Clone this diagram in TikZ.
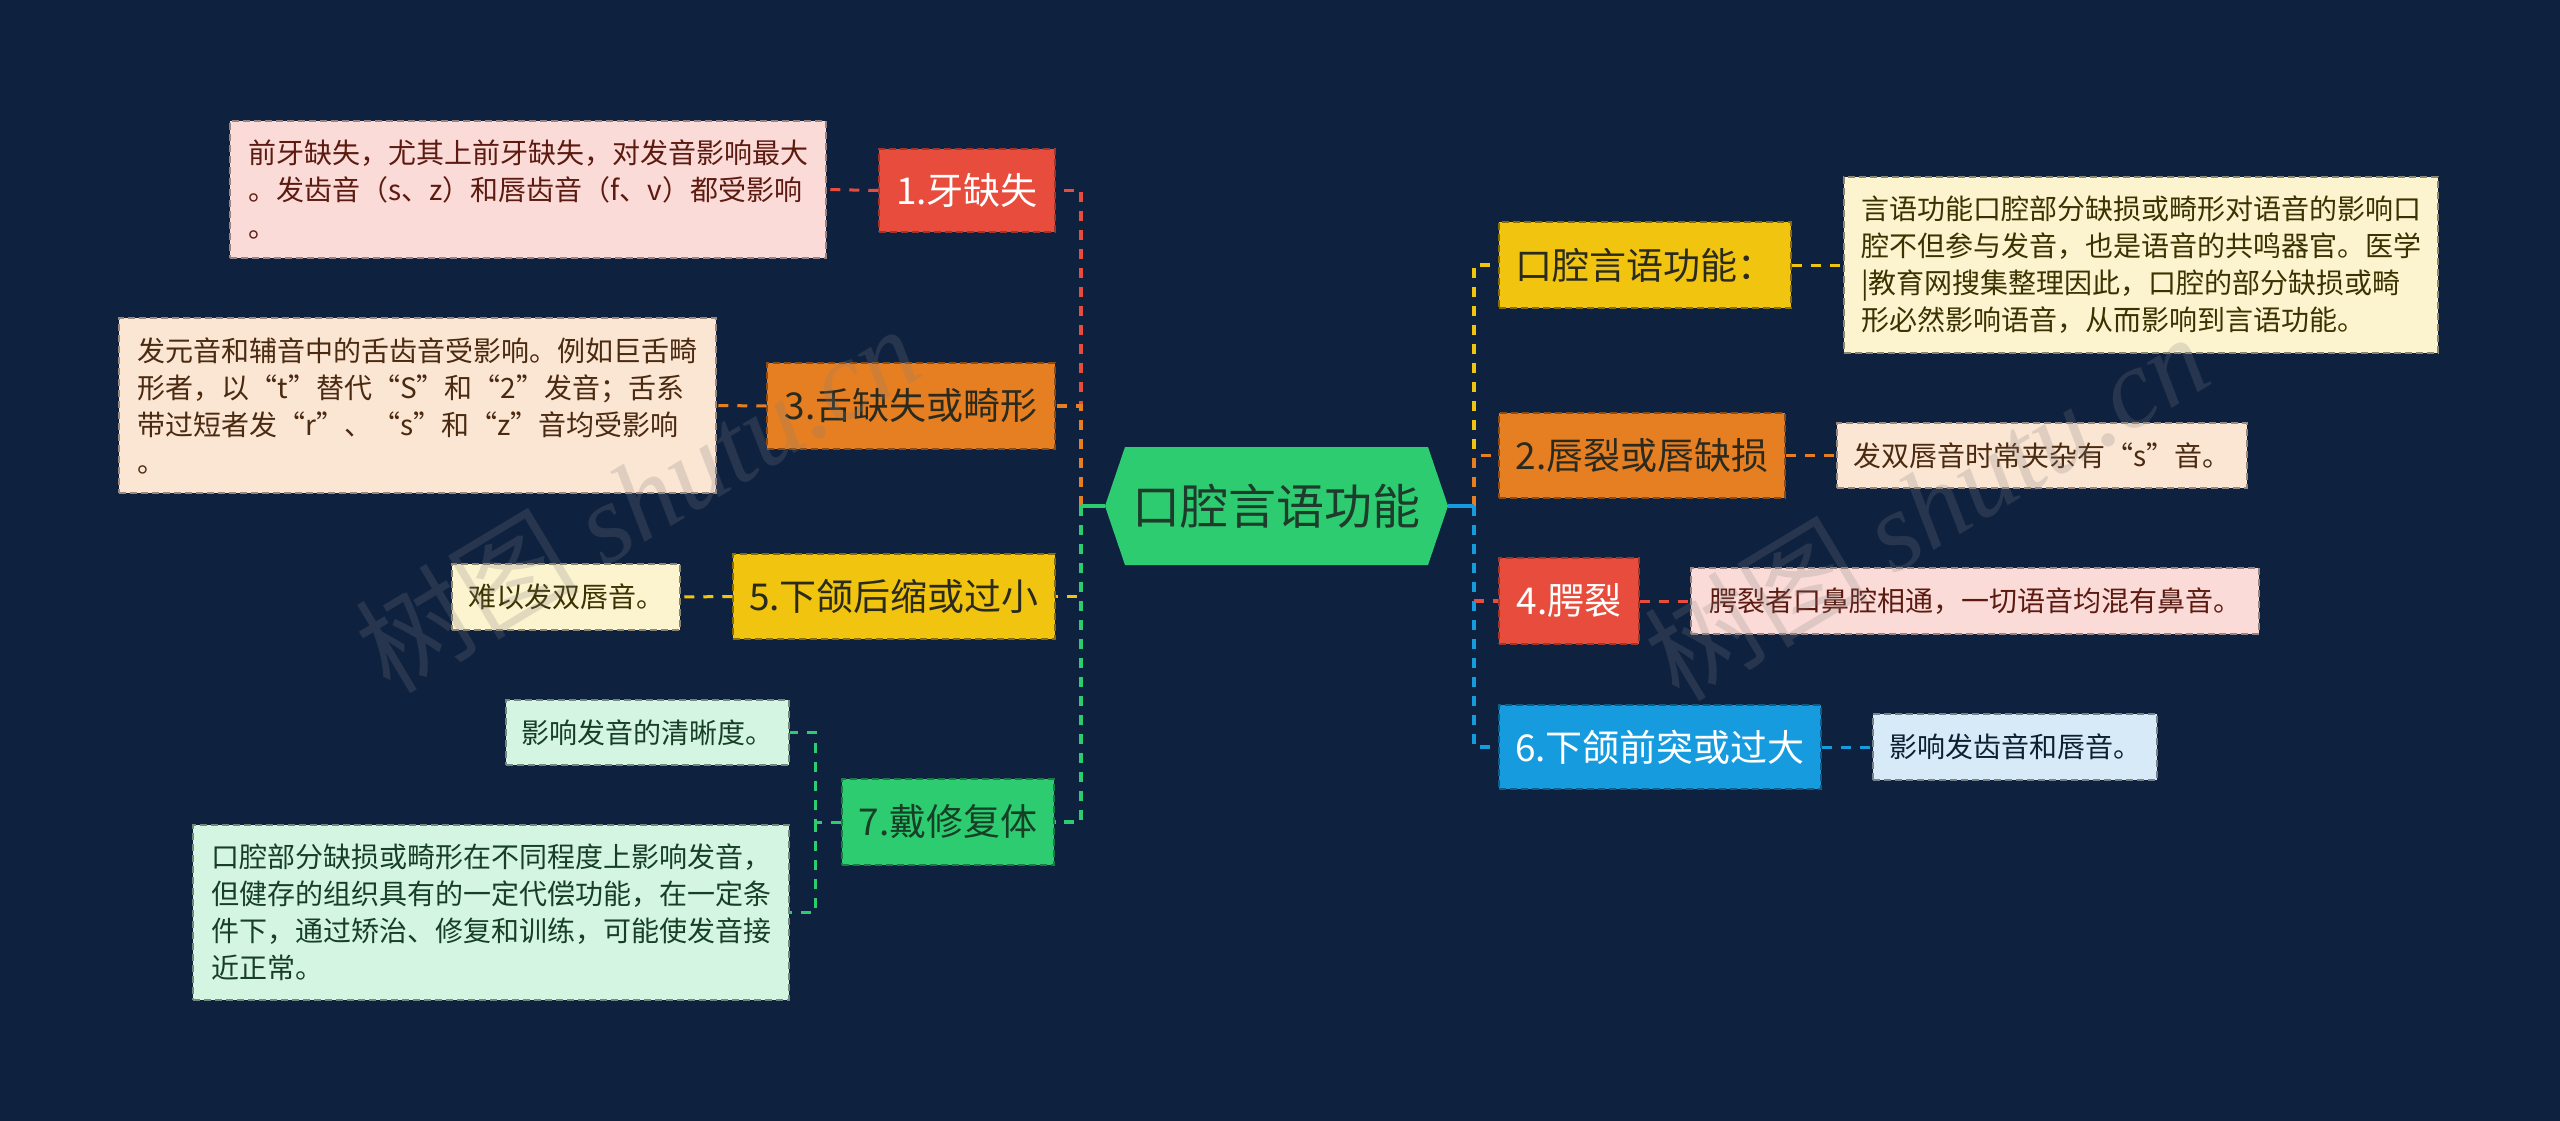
\documentclass[tikz,border=0pt]{standalone}
\usepackage{fontspec}
\setmainfont{Noto Sans CJK SC}
\newfontfamily\wmfont{Liberation Serif}
\usetikzlibrary{calc}
\definecolor{bg}{HTML}{0E2240}
\definecolor{cred}{HTML}{E74C3C}
\definecolor{corg}{HTML}{E67E22}
\definecolor{cyel}{HTML}{F1C40F}
\definecolor{cgrn}{HTML}{2ECC71}
\definecolor{cblu}{HTML}{179BDF}
\definecolor{fpk}{HTML}{FADBD8}
\definecolor{fpc}{HTML}{FBE5D3}
\definecolor{fcr}{HTML}{FCF3CF}
\definecolor{fmt}{HTML}{D5F5E3}
\definecolor{fbl}{HTML}{D6EAF8}
\definecolor{tpk}{HTML}{5C1A10}
\definecolor{tpc}{HTML}{4A2A10}
\definecolor{tcr}{HTML}{3A3200}
\definecolor{tmt}{HTML}{173F26}
\definecolor{tbl}{HTML}{0B2033}
\definecolor{tdark}{HTML}{2A2A1E}
\definecolor{tcen}{HTML}{1E3B2C}
\tikzset{
  tb/.style={rectangle, inner sep=0pt, align=left, font=\fontsize{28}{37}\selectfont,
    dash pattern=on 7pt off 4pt, line width=1.5pt},
  br/.style={rectangle, inner sep=0pt, align=center, font=\fontsize{37}{44}\selectfont,
    dash pattern=on 7pt off 4pt, line width=1.5pt},
  stub/.style={line width=3.5pt},
  conn/.style={line width=3.5pt, dash pattern=on 10pt off 9pt},
  sconn/.style={line width=3pt, dash pattern=on 10pt off 9pt},
  wm/.style={rotate=31, text=gray, opacity=0.22, font=\fontsize{112}{112}\selectfont}
}
\begin{document}
\begin{tikzpicture}[x=1pt,y=-1pt]
\fill[bg] (0,0) rectangle (2560,1121);
\useasboundingbox (0,0) rectangle (2560,1121);

% center hexagon
\coordinate (cL) at (1105,506);
\coordinate (cR) at (1448,506);
\fill[cgrn] (cL) -- (1125,447) -- (1428,447) -- (cR) -- (1428,565) -- (1125,565) -- cycle;
\node[text=tcen, font=\fontsize{48}{56}\selectfont, inner sep=0pt] (cen) at (1276,506) {口腔言语功能};

\coordinate (trL) at (1081,506);
\coordinate (trR) at (1474,506);
\coordinate (j7) at (815,822);

% left branches
\node[br, fill=cred, draw=cred!70!black, text=white, minimum width=176pt, minimum height=83pt] (b1) at (967,190.5) {1.牙缺失};
\node[br, fill=corg, draw=corg!60!black, text=tdark, minimum width=288pt, minimum height=86pt] (b3) at (911,406) {3.舌缺失或畸形};
\node[br, fill=cyel, draw=cyel!55!black, text=tdark, minimum width=322pt, minimum height=85pt] (b5) at (894,596.5) {5.下颌后缩或过小};
\node[br, fill=cgrn, draw=cgrn!60!black, text=tmt, minimum width=212pt, minimum height=86pt] (b7) at (948,822) {7.戴修复体};

% right branches
\node[br, fill=cyel, draw=cyel!55!black, text=tdark, minimum width=292pt, minimum height=86pt] (bA) at (1645,265) {口腔言语功能：};
\node[br, fill=corg, draw=corg!60!black, text=tdark, minimum width=286pt, minimum height=85pt] (b2) at (1642,455.5) {2.唇裂或唇缺损};
\node[br, fill=cred, draw=cred!70!black, text=white, minimum width=140pt, minimum height=86pt] (b4) at (1569,601) {4.腭裂};
\node[br, fill=cblu, draw=cblu!60!black, text=white, minimum width=322pt, minimum height=84pt] (b6) at (1660,747) {6.下颌前突或过大};

% text boxes left
\node[tb, fill=fpk, draw=fpk!60!black, text=tpk, minimum width=596pt, minimum height=137pt] (t1) at (528,189.5)
  {前牙缺失，尤其上前牙缺失，对发音影响最大\\。发齿音（s、z）和唇齿音（f、v）都受影响\\。};
\node[tb, fill=fpc, draw=fpc!60!black, text=tpc, minimum width=597pt, minimum height=175pt] (t3) at (417.5,405.5)
  {发元音和辅音中的舌齿音受影响。例如巨舌畸\\形者，以“t”替代“S”和“2”发音；舌系\\带过短者发“r”、“s”和“z”音均受影响\\。};
\node[tb, fill=fcr, draw=fcr!55!black, text=tcr, minimum width=228pt, minimum height=66pt] (t5) at (566,597) {难以发双唇音。};
\node[tb, fill=fmt, draw=fmt!55!black, text=tmt, minimum width=283pt, minimum height=65pt] (t7a) at (647.5,732.5) {影响发音的清晰度。};
\node[tb, fill=fmt, draw=fmt!55!black, text=tmt, minimum width=596pt, minimum height=175pt] (t7b) at (491,912.5)
  {口腔部分缺损或畸形在不同程度上影响发音，\\但健存的组织具有的一定代偿功能，在一定条\\件下，通过矫治、修复和训练，可能使发音接\\近正常。};

% text boxes right
\node[tb, fill=fcr, draw=fcr!55!black, text=tcr, minimum width=594pt, minimum height=176pt] (tA) at (2141,265)
  {言语功能口腔部分缺损或畸形对语音的影响口\\腔不但参与发音，也是语音的共鸣器官。医学\\|教育网搜集整理因此，口腔的部分缺损或畸\\形必然影响语音，从而影响到言语功能。};
\node[tb, fill=fpc, draw=fpc!60!black, text=tpc, minimum width=410pt, minimum height=65pt] (t2) at (2042,455.5) {发双唇音时常夹杂有“s”音。};
\node[tb, fill=fpk, draw=fpk!60!black, text=tpk, minimum width=568pt, minimum height=66pt] (t4) at (1975,601) {腭裂者口鼻腔相通，一切语音均混有鼻音。};
\node[tb, fill=fbl, draw=fbl!55!black, text=tbl, minimum width=284pt, minimum height=66pt] (t6) at (2015,747) {影响发齿音和唇音。};

% left connectors
\draw[stub, cred] (cL) -- (trL);
\draw[conn, cred] (trL) |- (b1.east);
\draw[stub, corg] (cL) -- (trL);
\draw[conn, corg] (trL) |- (b3.east);
\draw[stub, cyel] (cL) -- (trL);
\draw[conn, cyel] (trL) |- (b5.east);
\draw[stub, cgrn] (cL) -- (trL);
\draw[conn, cgrn] (trL) |- (b7.east);

% right connectors
\draw[stub, cyel] (cR) -- (trR);
\draw[conn, cyel] (trR) |- (bA.west);
\draw[stub, corg] (cR) -- (trR);
\draw[conn, corg] (trR) |- (b2.west);
\draw[stub, cred] (cR) -- (trR);
\draw[conn, cred] (trR) |- (b4.west);
\draw[stub, cblu] (cR) -- (trR);
\draw[conn, cblu] (trR) |- (b6.west);

% branch to text connectors
\draw[sconn, cred] (b1.west) -- (t1.east);
\draw[sconn, corg] (b3.west) -- (t3.east);
\draw[sconn, cyel] (b5.west) -- (t5.east);
\draw[sconn, cgrn] (b7.west) -- (j7) |- (t7a.east);
\draw[sconn, cgrn] (j7) |- (t7b.east);
\draw[sconn, cyel] (bA.east) -- (tA.west);
\draw[sconn, corg] (b2.east) -- (t2.west);
\draw[sconn, cred] (b4.east) -- (t4.west);
\draw[sconn, cblu] (b6.east) -- (t6.west);

% watermarks
\node[wm] (wm1) at (637,498) {树图 {\wmfont\itshape shutu.cn}};
\node[wm] (wm2) at (1926,506) {树图 {\wmfont\itshape shutu.cn}};
\end{tikzpicture}
\end{document}
